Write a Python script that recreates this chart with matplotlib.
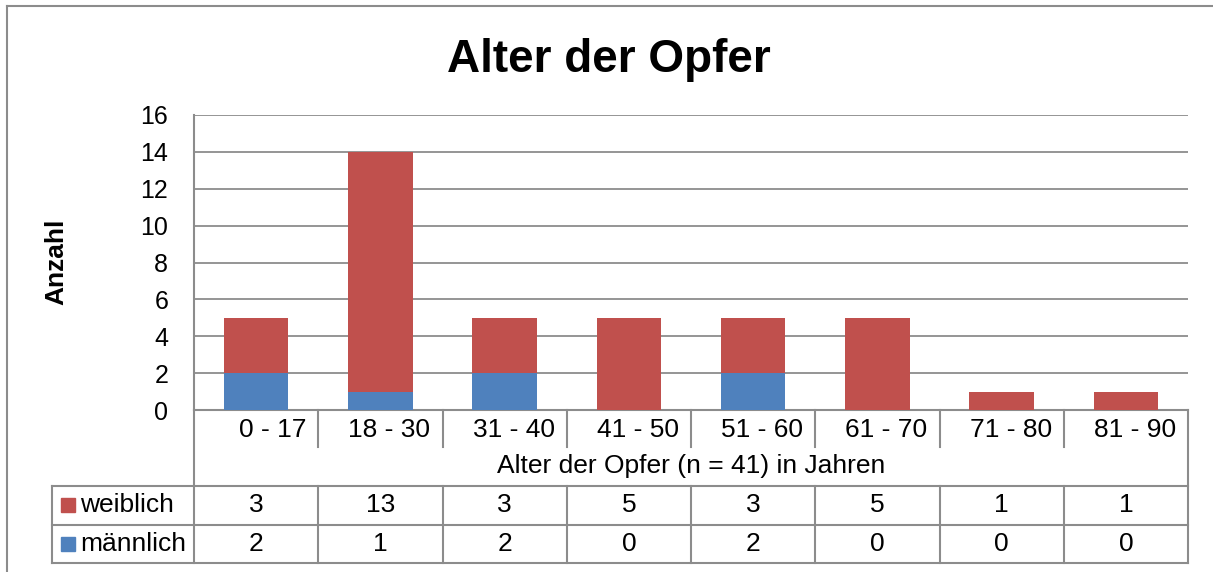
import matplotlib.pyplot as plt
from matplotlib.lines import Line2D
from matplotlib.patches import Rectangle
import numpy as np

plt.rcParams['font.family'] = ['Liberation Sans', 'DejaVu Sans']

categories = ['0 - 17', '18 - 30', '31 - 40', '41 - 50', '51 - 60', '61 - 70', '71 - 80', '81 - 90']
weiblich = [3, 13, 3, 5, 3, 5, 1, 1]
maennlich = [2, 1, 2, 0, 2, 0, 0, 0]
series_names = ['weiblich', 'männlich']

red = '#C0504D'
blue = '#4F81BD'
grid = '#8C8C8C'

W, H = 1213, 572
fig = plt.figure(figsize=(W / 100, H / 100), dpi=100)


def fx(x):
    return x / W


def fy(y):
    return 1 - y / H


def hline(x0, x1, y, lw=1.5):
    fig.add_artist(Line2D([fx(x0), fx(x1)], [fy(y), fy(y)], color=grid, lw=lw,
                          transform=fig.transFigure))


def vline(x, y0, y1, lw=1.5):
    fig.add_artist(Line2D([fx(x), fx(x)], [fy(y0), fy(y1)], color=grid, lw=lw,
                          transform=fig.transFigure))


# plot area in pixels
left, right, top, bottom = 194, 1188, 115, 410
ax = fig.add_axes([fx(left), fy(bottom), fx(right - left), fy(top) - fy(bottom)])

x = np.arange(len(categories))
ax.bar(x, maennlich, width=0.52, color=blue, zorder=3)
ax.bar(x, weiblich, bottom=maennlich, width=0.52, color=red, zorder=3)

ax.set_xlim(-0.5, len(categories) - 0.5)
ax.set_ylim(0, 16)
ax.set_yticks(range(0, 17, 2))
ax.yaxis.grid(True, color=grid, lw=1.3, zorder=0)
ax.set_xticks([])
ax.tick_params(axis='y', length=0, pad=18.5, labelsize=18)
for s in ['top', 'right']:
    ax.spines[s].set_visible(False)
for s in ['left', 'bottom']:
    ax.spines[s].set_color(grid)
    ax.spines[s].set_linewidth(1.5)

fig.text(fx(56), fy(262), 'Anzahl', rotation=90, ha='center', va='center',
         fontsize=19, fontweight='bold')

fig.text(fx(609), fy(72), 'Alter der Opfer', ha='center', va='baseline',
         fontsize=33, fontweight='bold')

# data table below the axis
cw = (right - left) / len(categories)
for i in range(len(categories) + 1):
    xb = left + i * cw
    if i in (0, len(categories)):
        vline(xb, bottom, 563)
    else:
        vline(xb, bottom, 447)
        vline(xb, 486, 563)
vline(52, 486, 563)
for yy in (486, 525, 563):
    hline(52, right, yy)

for i, lab in enumerate(categories):
    cx = left + (i + 0.5) * cw
    fig.text(fx(left + (i + 1) * cw - 12), fy(430), lab, ha='right', va='center', fontsize=19)
    fig.text(fx(cx), fy(505), str(weiblich[i]), ha='center', va='center', fontsize=19)
    fig.text(fx(cx), fy(544), str(maennlich[i]), ha='center', va='center', fontsize=19)

fig.text(fx((left + right) / 2), fy(466), 'Alter der Opfer (n = 41) in Jahren',
         ha='center', va='center', fontsize=19)

for name, col, yc in zip(series_names, [red, blue], [505, 544]):
    fig.add_artist(Rectangle((fx(61), fy(yc + 7)), fx(14), fy(yc - 7) - fy(yc + 7),
                             color=col, transform=fig.transFigure))
    fig.text(fx(80), fy(yc), name, ha='left', va='center', fontsize=19)

# outer chart border (left and top visible)
vline(7, 6, 572)
hline(7, W, 6)

fig.savefig('out.png', dpi=100)
